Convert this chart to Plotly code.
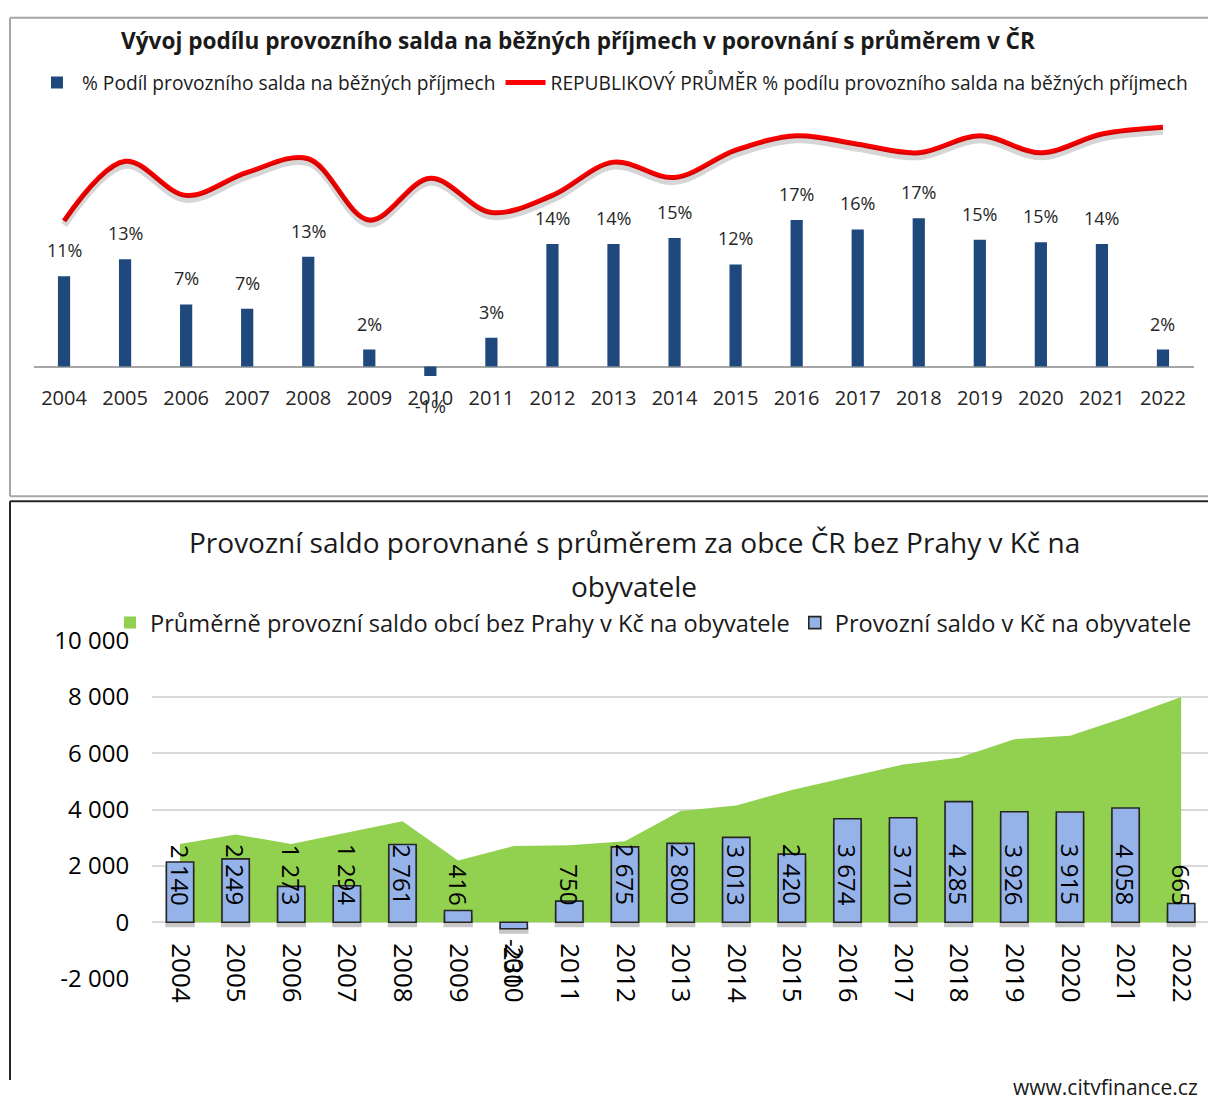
import plotly.graph_objects as go

# ---------------- data ----------------
years = [str(y) for y in range(2004, 2023)]
share_pct = [10.6, 12.6, 7.3, 6.8, 12.9, 2.0, -1.1, 3.4, 14.4, 14.4, 15.1, 12.0,
             17.2, 16.1, 17.4, 14.9, 14.6, 14.4, 2.0]
republic_avg_pct = [17.1, 24.1, 20.1, 22.8, 24.4, 17.2, 22.1, 18.1, 20.1, 24.0, 22.2,
                    25.4, 27.1, 26.1, 25.1, 27.1, 25.1, 27.3, 28.1]
saldo_per_capita = [2140, 2249, 1273, 1294, 2761, 416, -230, 750, 2675, 2800, 3013,
                    2420, 3674, 3710, 4285, 3926, 3915, 4058, 665]
avg_saldo_per_capita = [2780, 3120, 2780, 3180, 3590, 2190, 2710, 2730, 2880, 3950,
                        4150, 4700, 5150, 5600, 5840, 6500, 6620, 7280, 8000]
y2_tickvals = [-2000, 0, 2000, 4000, 6000, 8000, 10000]
y2_ticktext = ["-2 000", "0", "2 000", "4 000", "6 000", "8 000", "10 000"]

W, H = 1216, 1095
OFF = 8                      # default page margin around the plot div
FW, FH = W - OFF, H - OFF
FONT = "Open Sans"
VS, VO = 0.973, 15.4         # observed vertical mapping of the photographed page


def fx(x):
    return (x - OFF) / FW


def fy(y):
    page = (y - VO) / VS
    return 1 - (page - OFF) / FH


fig = go.Figure()

# ---------------- top chart ----------------
fig.add_trace(go.Bar(
    x=years, y=share_pct, xaxis="x", yaxis="y", width=0.2,
    marker=dict(color="#1F497D", line=dict(width=0)),
    name="% Podíl provozního salda na běžných příjmech", legend="legend",
))
fig.add_trace(go.Scatter(
    x=years, y=republic_avg_pct, xaxis="x", yaxis="y3", mode="lines",
    line=dict(color="rgba(0,0,0,0.16)", width=7, shape="spline", smoothing=1.0),
    showlegend=False, hoverinfo="skip",
))
fig.add_trace(go.Scatter(
    x=years, y=republic_avg_pct, xaxis="x", yaxis="y", mode="lines",
    line=dict(color="#FF0000", width=5, shape="spline", smoothing=1.0),
    name="REPUBLIKOVÝ PRŮMĚR % podílu provozního salda na běžných příjmech",
    legend="legend",
))

# ---------------- bottom chart ----------------
fig.add_trace(go.Scatter(
    x=years, y=avg_saldo_per_capita, xaxis="x2", yaxis="y2", mode="lines",
    fill="tozeroy", fillcolor="#92D050", line=dict(width=0, color="#92D050"),
    name="Průměrně provozní saldo obcí bez Prahy v Kč na obyvatele", showlegend=False,
))
# soft shadow of the bars
fig.add_trace(go.Bar(
    x=years, y=saldo_per_capita, xaxis="x2", yaxis="y4", width=0.53,
    marker=dict(color="rgba(0,0,0,0.22)", line=dict(width=0)),
    showlegend=False, hoverinfo="skip",
))
# legend entry (square swatch) for the area series
fig.add_trace(go.Bar(
    x=[None], y=[None], xaxis="x2", yaxis="y5",
    marker=dict(color="#92D050", line=dict(width=0)),
    name="Průměrně provozní saldo obcí bez Prahy v Kč na obyvatele", legend="legend2",
    hoverinfo="skip",
))
fig.add_trace(go.Bar(
    x=years, y=saldo_per_capita, xaxis="x2", yaxis="y5", width=0.49,
    marker=dict(color="#95B3E8", line=dict(color="#262626", width=1.6)),
    name="Provozní saldo v Kč na obyvatele", legend="legend2",
))

annotations = []
for i, v in enumerate(share_pct):
    annotations.append(dict(
        x=i, y=v, xref="x", yref="y", text=f"{round(v)}%", showarrow=False,
        xanchor="center", yanchor="middle", yshift=26 if v >= 0 else -30,
        font=dict(family=FONT, size=18, color="#262626"),
    ))
for i, v in enumerate(saldo_per_capita):
    annotations.append(dict(
        x=i, y=0, xref="x2", yref="y5", text=f"{v:,}".replace(",", " "),
        showarrow=False, textangle=90, xanchor="center",
        yanchor="bottom" if v >= 0 else "top", yshift=15 if v >= 0 else -15,
        font=dict(family=FONT, size=24, color="#000000"),
    ))
annotations.append(dict(
    x=fx(578), y=fy(38), xref="paper", yref="paper", showarrow=False,
    text="<b>Vývoj podílu provozního salda na běžných příjmech v porovnání s průměrem v ČR</b>",
    font=dict(family=FONT, size=22.6, color="#1a1a1a"), xanchor="center", yanchor="middle",
))
annotations.append(dict(
    x=fx(634), y=fy(541), xref="paper", yref="paper", showarrow=False,
    text="Provozní saldo porovnané s průměrem za obce ČR bez Prahy v Kč na",
    font=dict(family=FONT, size=28, color="#1a1a1a"), xanchor="center", yanchor="middle",
))
annotations.append(dict(
    x=fx(634), y=fy(585), xref="paper", yref="paper", showarrow=False,
    text="obyvatele",
    font=dict(family=FONT, size=28, color="#1a1a1a"), xanchor="center", yanchor="middle",
))
annotations.append(dict(
    x=fx(1200), y=fy(1088), xref="paper", yref="paper", showarrow=False,
    text="www.cityfinance.cz",
    font=dict(family=FONT, size=21, color="#1a1a1a"), xanchor="right", yanchor="middle",
))

shapes = [
    dict(type="line", xref="paper", yref="paper", x0=fx(10), x1=1, y0=fy(15), y1=fy(15),
         line=dict(color="#A6A6A6", width=2)),
    dict(type="line", xref="paper", yref="paper", x0=fx(10), x1=fx(10), y0=fy(15), y1=fy(495),
         line=dict(color="#A6A6A6", width=2)),
    dict(type="line", xref="paper", yref="paper", x0=fx(10), x1=1, y0=fy(495), y1=fy(495),
         line=dict(color="#A6A6A6", width=2)),
    dict(type="line", xref="paper", yref="paper", x0=fx(10), x1=1, y0=fy(500), y1=fy(500),
         line=dict(color="#262626", width=2)),
    dict(type="line", xref="paper", yref="paper", x0=fx(10), x1=fx(10), y0=fy(500), y1=0,
         line=dict(color="#262626", width=2)),
]

top_range = [-1.64, 30]
shadow_shift = 4 / 8.55
bottom_range = [-2000, 10000]
bar_shadow_shift = 5 / 28.25 * 1000

fig.update_layout(
    width=FW, height=FH, margin=dict(l=0, r=0, t=0, b=0),
    paper_bgcolor="white", plot_bgcolor="rgba(0,0,0,0)",
    font=dict(family=FONT, color="#1a1a1a"),
    barmode="overlay",
    showlegend=True,
    xaxis=dict(domain=[fx(33.5), fx(1193.5)], range=[-0.5, 18.5], type="category",
               showgrid=False, showline=False, ticks="", anchor="y",
               tickfont=dict(family=FONT, size=20, color="#262626"), ticklabelstandoff=3),
    yaxis=dict(domain=[fy(379), fy(108.5)], range=top_range, showgrid=False,
               showticklabels=False, zeroline=True, zerolinecolor="#A6A6A6", zerolinewidth=2,
               anchor="x"),
    yaxis3=dict(overlaying="y", range=[top_range[0] + shadow_shift, top_range[1] + shadow_shift],
                visible=False, anchor="x"),
    xaxis2=dict(domain=[fx(152.2), fx(1209)], range=[-0.5, 18.5], type="category",
                showgrid=False, showline=False, ticks="", anchor="free", position=fy(922.5),
                tickangle=90, tickfont=dict(family=FONT, size=26, color="#000000"),
                ticklabelstandoff=20),
    yaxis2=dict(domain=[fy(979), fy(640)], range=bottom_range, anchor="x2",
                tickvals=y2_tickvals, ticktext=y2_ticktext, showgrid=True,
                gridcolor="#D9D9D9", gridwidth=1.5, zeroline=False, showline=False,
                tickfont=dict(family=FONT, size=24, color="#000000"), ticklabelstandoff=22),
    yaxis4=dict(overlaying="y2", visible=False, anchor="x2",
                range=[bottom_range[0] + bar_shadow_shift, bottom_range[1] + bar_shadow_shift]),
    yaxis5=dict(overlaying="y2", range=bottom_range, visible=False, anchor="x2"),
    legend=dict(orientation="h", x=fx(32), y=fy(80), xanchor="left", yanchor="middle",
                font=dict(family=FONT, size=19.2, color="#1a1a1a"), bgcolor="rgba(0,0,0,0)",
                itemwidth=40, tracegroupgap=0),
    legend2=dict(orientation="h", x=fx(110), y=fy(622), xanchor="left", yanchor="middle",
                 font=dict(family=FONT, size=23.6, color="#1a1a1a"), bgcolor="rgba(0,0,0,0)",
                 itemwidth=30),
    annotations=annotations,
    shapes=shapes,
)

fig.write_html("out.html")
